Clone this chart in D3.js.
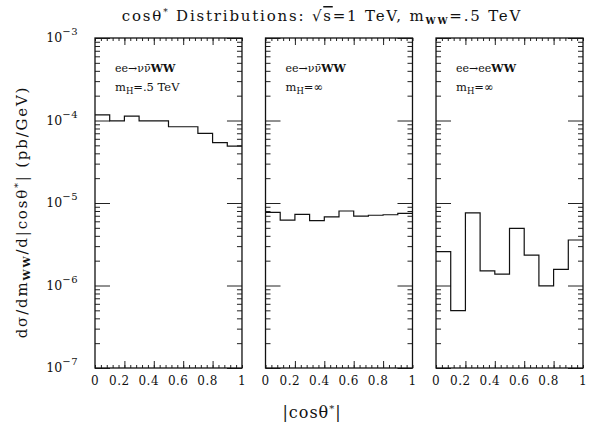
<!DOCTYPE html>
<html>
<head>
<meta charset="utf-8">
<script src="https://cdn.jsdelivr.net/npm/d3@7"></script>
<style>
  body { margin: 0; background: #fff; }
  text { font-family: "DejaVu Serif", serif; fill: #111; }
</style>
</head>
<body>
<div id="chart"></div>
<script>
// bins of |cos theta*|, 0.1 wide
var binStarts = [0, 0.1, 0.2, 0.3, 0.4, 0.5, 0.6, 0.7, 0.8, 0.9];

// d sigma / d m_WW / d|cos| in pb/GeV
var higgsValues = [1.17e-4, 0.99e-4, 1.13e-4, 0.99e-4, 0.99e-4, 8.4e-5, 8.4e-5, 7.0e-5, 5.4e-5, 4.9e-5];
var noHiggsValues = [7.7e-6, 6.2e-6, 7.3e-6, 6.1e-6, 6.8e-6, 8.0e-6, 6.95e-6, 7.1e-6, 7.2e-6, 7.5e-6];
var eeWWValues = [2.57e-6, 4.95e-7, 7.6e-6, 1.5e-6, 1.37e-6, 4.93e-6, 2.34e-6, 9.9e-7, 1.57e-6, 3.56e-6];

var panelProcess = ['nn', 'nn', 'ee'];
var panelHiggs = ['.5 TeV', '\u221E', '\u221E'];

var xTickLabels = ['0', '0.2', '0.4', '0.6', '0.8', '1'];
var xTickValues = [0, 0.2, 0.4, 0.6, 0.8, 1];
var yTickExponents = [-3, -4, -5, -6, -7];

var w = 596;
var h = 427;
var yTop = 38, yBottom = 368;

var svg = d3.select('#chart')
     .append('svg')
     .attr('width', w)
     .attr('height', h);

var panel = d3.scaleBand()
     .domain([0, 1, 2])
     .range([95, 583])
     .paddingInner(0.138)
     .paddingOuter(0);

var y = d3.scaleLog()
     .domain([1e-7, 1e-3])
     .range([yBottom, yTop]);

var allValues = [higgsValues, noHiggsValues, eeWWValues];

var minorY = [];
for (var e = -7; e < -3; e++) {
  for (var k = 2; k <= 9; k++) minorY.push(k * Math.pow(10, e));
}
var majorY = yTickExponents.map(function(e) { return Math.pow(10, e); });
var minorX = d3.range(0, 1.001, 0.04);

allValues.forEach(function(values, i) {
  var x0 = panel(i), x1 = panel(i) + panel.bandwidth();
  var x = d3.scaleLinear().domain([0, 1]).range([x0, x1]);
  var g = svg.append('g');

  // ticks on all four sides, pointing inward
  function addAxis(axis, tx, ty) {
    var a = g.append('g')
         .attr('transform', 'translate(' + tx + ',' + ty + ')')
         .call(axis);
    a.select('.domain').remove();
    a.selectAll('text').remove();
    a.selectAll('line').attr('stroke', '#222').attr('stroke-width', 1);
  }
  addAxis(d3.axisBottom(x).tickValues(minorX).tickSize(-3), 0, yBottom);
  addAxis(d3.axisBottom(x).tickValues([0.2, 0.4, 0.6, 0.8]).tickSize(-7), 0, yBottom);
  addAxis(d3.axisTop(x).tickValues(minorX).tickSize(-3), 0, yTop);
  addAxis(d3.axisTop(x).tickValues([0.2, 0.4, 0.6, 0.8]).tickSize(-7), 0, yTop);
  addAxis(d3.axisLeft(y).tickValues(minorY).tickSize(-5), x0, 0);
  addAxis(d3.axisLeft(y).tickValues(majorY).tickSize(-15), x0, 0);
  addAxis(d3.axisRight(y).tickValues(minorY).tickSize(-5), x1, 0);
  addAxis(d3.axisRight(y).tickValues(majorY).tickSize(-15), x1, 0);

  g.append('rect')
       .attr('x', x0)
       .attr('y', yTop)
       .attr('width', x1 - x0)
       .attr('height', yBottom - yTop)
       .attr('fill', 'none')
       .attr('stroke', '#111')
       .attr('stroke-width', 1.3);

  // histogram as a step line
  var pts = binStarts.map(function(b, j) { return [b, values[j]]; });
  pts.push([1, values[values.length - 1]]);
  var line = d3.line()
       .x(function(d) { return x(d[0]); })
       .y(function(d) { return y(d[1]); })
       .curve(d3.curveStepAfter);
  g.append('path')
       .attr('d', line(pts))
       .attr('fill', 'none')
       .attr('stroke', '#111')
       .attr('stroke-width', 1.2);

  // x tick labels (the decimals sit a little left of their ticks)
  g.selectAll('.xl')
       .data(xTickValues)
       .enter()
       .append('text')
       .attr('x', function(d) { return (d > 0 && d < 1) ? x(d) - 5 : x(d); })
       .attr('y', 385)
       .attr('text-anchor', 'middle')
       .attr('font-family', 'Liberation Serif')
       .attr('font-size', 12)
       .attr('letter-spacing', 0.5)
       .text(function(d, j) { return xTickLabels[j]; });

  // process label
  var t1 = g.append('text')
       .attr('x', x0 + 20)
       .attr('y', 72)
       .attr('font-family', 'Liberation Serif')
       .attr('font-size', 11);
  if (panelProcess[i] == 'nn') {
    t1.append('tspan').text('ee\u2192\u03BD\u03BD\u0304');
  } else {
    t1.append('tspan').text('ee\u2192ee');
  }
  t1.append('tspan').attr('font-weight', 'bold').text('WW');

  var t2 = g.append('text')
       .attr('x', x0 + 20)
       .attr('y', 91)
       .attr('font-family', 'Liberation Serif')
       .attr('font-size', 11.5);
  t2.append('tspan').text('m');
  t2.append('tspan').attr('font-size', 8.5).attr('dy', 3).text('H');
  t2.append('tspan').attr('dy', -3).text('=' + panelHiggs[i]);
});

// y tick labels, left panel only
var yl = svg.selectAll('.yl')
     .data(yTickExponents)
     .enter()
     .append('text')
     .attr('x', 78)
     .attr('y', function(d) { return y(Math.pow(10, d)) + 4; })
     .attr('text-anchor', 'end')
     .attr('font-size', 12.5);
yl.append('tspan').text('10');
yl.append('tspan')
     .attr('font-size', 10)
     .attr('dy', -7)
     .attr('letter-spacing', 0.5)
     .text(function(d) { return '\u2212' + (-d); });

// title
var title = svg.append('text')
     .attr('x', 322)
     .attr('y', 21)
     .attr('text-anchor', 'middle')
     .attr('font-size', 15)
     .attr('letter-spacing', 1.8);
title.append('tspan').text('cos\u03B8');
title.append('tspan').attr('font-size', 9).attr('dy', -6).text('*');
title.append('tspan').attr('dy', 6).text(' Distributions: \u221A');
title.append('tspan').style('text-decoration', 'overline').text('s');
title.append('tspan').text('=1 TeV, m');
title.append('tspan').attr('font-size', 9).attr('font-weight', 'bold').attr('dy', 3).text('WW');
title.append('tspan').attr('dy', -3).text('=.5 TeV');

// y axis title
var yt = svg.append('text')
     .attr('transform', 'translate(27,212) rotate(-90)')
     .attr('text-anchor', 'middle')
     .attr('font-size', 15)
     .attr('letter-spacing', 1.8);
yt.append('tspan').text('d\u03C3/dm');
yt.append('tspan').attr('font-size', 10).attr('font-weight', 'bold').attr('dy', 3).text('WW');
yt.append('tspan').attr('dy', -3).text('/d|cos\u03B8');
yt.append('tspan').attr('font-size', 10).attr('dy', -6).text('*');
yt.append('tspan').attr('dy', 6).text('| (pb/GeV)');

// x axis title
var xt = svg.append('text')
     .attr('x', 312)
     .attr('y', 418)
     .attr('text-anchor', 'middle')
     .attr('font-size', 16)
     .attr('letter-spacing', 1);
xt.append('tspan').text('|cos\u03B8');
xt.append('tspan').attr('font-size', 10).attr('dy', -6).text('*');
xt.append('tspan').attr('dy', 6).text('|');
</script>
</body>
</html>
